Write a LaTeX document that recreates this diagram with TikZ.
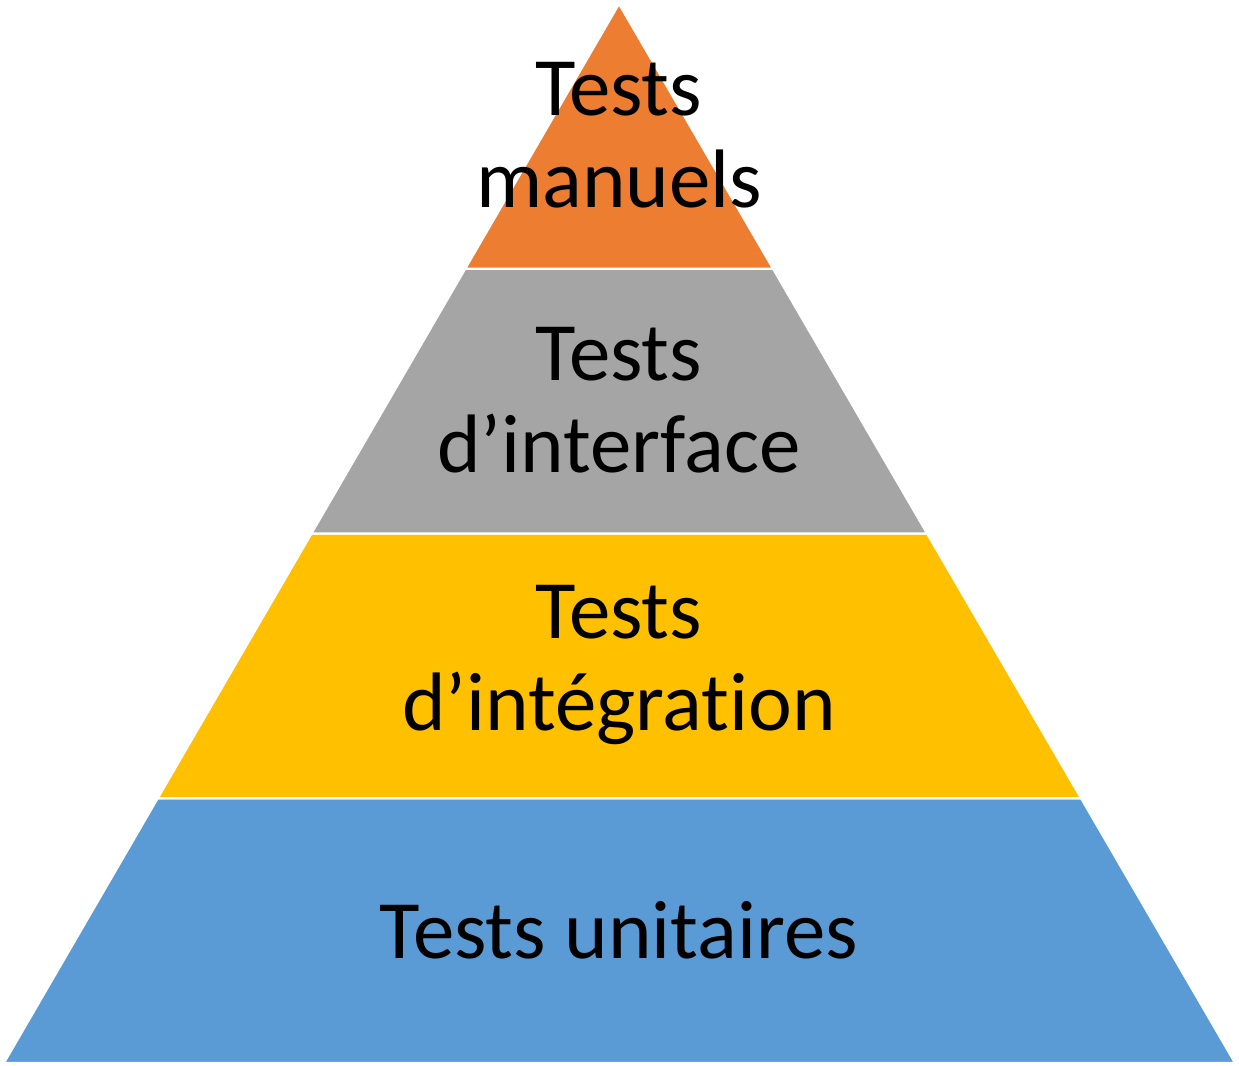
\documentclass[tikz,border=0pt]{standalone}
\usepackage{fontspec}
\setmainfont[Ligatures=NoCommon]{Carlito}
\usepackage{xcolor}
\definecolor{pyrorange}{RGB}{237,125,49}
\definecolor{pyrgray}{RGB}{165,165,165}
\definecolor{pyrgold}{RGB}{255,192,0}
\definecolor{pyrblue}{RGB}{91,155,213}
\usetikzlibrary{calc,positioning}

\begin{document}
\begin{tikzpicture}[
    layer/.style={draw=white, line width=0.6pt, line join=miter},
    lbl/.style={align=center, inner sep=0pt,
                font=\fontsize{23.6}{26.2}\selectfont}
  ]
    \useasboundingbox (0,0) rectangle (12.39,10.66);

    % Outline of the pyramid
    \coordinate (apex) at (6.19,10.62);
    \coordinate (bl) at (0.04,0.03);
    \coordinate (br) at (12.35,0.03);

    % Layer edges on both sides
    \coordinate (l1) at ($(bl)!0.25!(apex)$);
    \coordinate (r1) at ($(br)!0.25!(apex)$);
    \coordinate (l2) at ($(bl)!0.50!(apex)$);
    \coordinate (r2) at ($(br)!0.50!(apex)$);
    \coordinate (l3) at ($(bl)!0.75!(apex)$);
    \coordinate (r3) at ($(br)!0.75!(apex)$);

    % Layers, bottom to top
    \path[layer, fill=pyrblue]   (bl) -- (br) -- (r1) -- (l1) -- cycle;
    \path[layer, fill=pyrgold]   (l1) -- (r1) -- (r2) -- (l2) -- cycle;
    \path[layer, fill=pyrgray]   (l2) -- (r2) -- (r3) -- (l3) -- cycle;
    \path[layer, fill=pyrorange] (l3) -- (r3) -- (apex) -- cycle;

    % Labels
    \node[lbl] (unit)   at (6.19,1.36) {Tests unitaires};
    \node[lbl] (integ)  at (6.19,4.01) {Tests\\d’intégration};
    \node[lbl] (iface)  at (6.19,6.66) {Tests\\d’interface};
    \node[lbl] (manual) at (6.19,9.31) {Tests\\manuels};
  \end{tikzpicture}
\end{document}
